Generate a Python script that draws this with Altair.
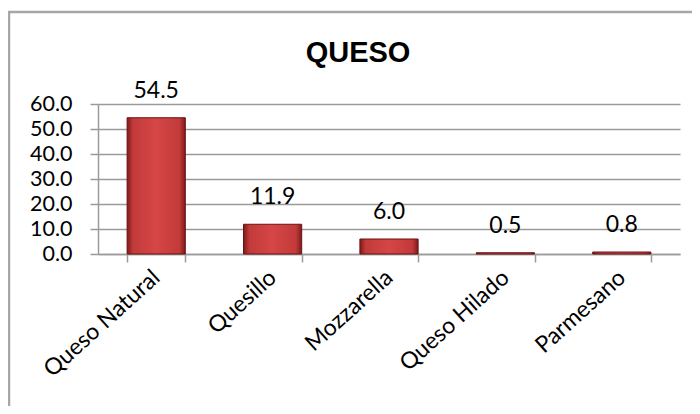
import altair as alt
import pandas as pd

categories = ["Queso Natural", "Quesillo", "Mozzarella", "Queso Hilado", "Parmesano"]
values = [54.5, 11.9, 6.0, 0.5, 0.8]
y_ticks = [0, 10, 20, 30, 40, 50, 60]
title_text = "QUESO"

df = pd.DataFrame({"cat": categories, "val": values})

FONT = "Lato"
FS = 23
GRID = "#9a9a9a"

x_enc = alt.X(
    "cat:N",
    sort=categories,
    title=None,
    scale=alt.Scale(paddingInner=0.5, paddingOuter=0.25),
    axis=alt.Axis(
        labelAngle=-42,
        labelAlign="right",
        labelBaseline="middle",
        labelPadding=12,
        labelFont=FONT,
        labelFontSize=FS,
        labelColor="#000000",
        tickBand="extent",
        tickSize=8,
        tickColor=GRID,
        tickWidth=1.5,
        domainColor=GRID,
        domainWidth=1.5,
        grid=False,
        labelLimit=400,
        labelOverlap=False,
    ),
)
y_enc = alt.Y(
    "val:Q",
    title=None,
    scale=alt.Scale(domain=[0, 60], nice=False),
    axis=alt.Axis(
        values=y_ticks,
        format=".1f",
        labelFont=FONT,
        labelFontSize=21.5,
        labelColor="#000000",
        labelPadding=18,
        labelOverlap=False,
        tickSize=8,
        tickColor=GRID,
        tickWidth=1.5,
        domainColor=GRID,
        domainWidth=1.5,
        grid=True,
        gridColor=GRID,
        gridWidth=1.5,
    ),
)

grad = alt.Gradient(
    gradient="linear",
    x1=0, x2=1, y1=0, y2=0,
    stops=[
        alt.GradientStop(color="#7e1a1a", offset=0),
        alt.GradientStop(color="#c23a3a", offset=0.1),
        alt.GradientStop(color="#d64646", offset=0.5),
        alt.GradientStop(color="#c23a3a", offset=0.9),
        alt.GradientStop(color="#7e1a1a", offset=1),
    ],
)

bars = alt.Chart(df).mark_bar(color=grad, stroke="#6a1212", strokeWidth=1).encode(
    x=x_enc, y=y_enc
)

labels = alt.Chart(df).mark_text(
    dy=-20, baseline="alphabetic", font=FONT, fontSize=FS, color="#000000"
).encode(
    x=x_enc,
    y=y_enc,
    text=alt.Text("val:Q", format=".1f"),
)

title = alt.Chart(pd.DataFrame({"t": [title_text]})).mark_text(
    font="Liberation Sans", fontSize=29, fontWeight="bold", color="#000000",
    baseline="alphabetic", align="center",
).encode(x=alt.value(260), y=alt.value(-42), text="t:N")

border = alt.Chart(pd.DataFrame({"b": [0]})).mark_rect(
    fill=None, stroke="#a6a6a6", strokeWidth=2.5
).encode(x=alt.value(-89), x2=alt.value(620), y=alt.value(-92), y2=alt.value(330))

chart = alt.layer(border, bars, labels, title).properties(
    width=582,
    height=150,
    autosize="none",
    padding={"left": 90, "top": 96, "right": 12, "bottom": 152},
    background="#ffffff",
).configure_view(stroke=None).configure_axis(labelOverlap=False)

chart.save("out.html", embed_options={"renderer": "svg", "actions": False})
